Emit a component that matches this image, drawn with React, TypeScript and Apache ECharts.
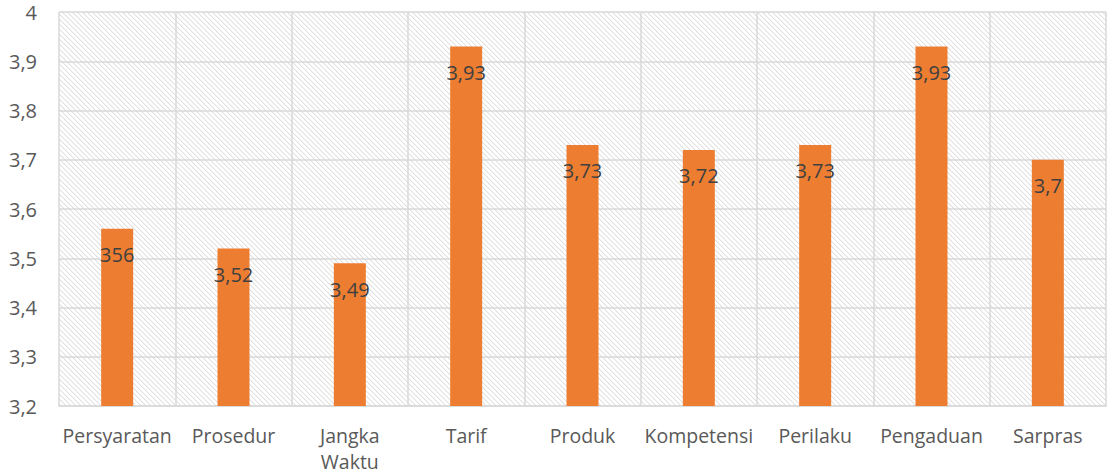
import React, { useEffect, useRef } from "react";
import * as echarts from "echarts";

const categories = ["Persyaratan", "Prosedur", "Jangka\nWaktu", "Tarif", "Produk", "Kompetensi", "Perilaku", "Pengaduan", "Sarpras"];
const values = [3.56, 3.52, 3.49, 3.93, 3.73, 3.72, 3.73, 3.93, 3.7];
const valueLabels = ["356", "3,52", "3,49", "3,93", "3,73", "3,72", "3,73", "3,93", "3,7"];
const yMin = 3.2;
const yMax = 4;
const yStep = 0.1;

function makeHatch(): string {
  const size = 5;
  const c = document.createElement("canvas");
  c.width = size;
  c.height = size;
  const ctx = c.getContext("2d")!;
  ctx.fillStyle = "#ffffff";
  ctx.fillRect(0, 0, size, size);
  for (let i = 0; i < size; i++) {
    ctx.fillStyle = "#e0e0e0";
    ctx.fillRect(i, i, 1, 1);
    ctx.fillStyle = "#f3f3f3";
    ctx.fillRect((i + 1) % size, i, 1, 1);
  }
  return c.toDataURL();
}

export default function App() {
  const ref = useRef<HTMLDivElement>(null);
  useEffect(() => {
    const chart = echarts.init(ref.current!, undefined, { renderer: "svg" });
    const font = "'Open Sans', sans-serif";
    chart.setOption({
      animation: false,
      backgroundColor: "#ffffff",
      grid: {
        left: 59,
        right: 1,
        top: 12,
        bottom: 67,
        show: true,
        borderWidth: 0,
        backgroundColor: { image: makeHatch(), repeat: "repeat" },
      },
      xAxis: {
        type: "category",
        data: categories,
        axisLine: { show: true, lineStyle: { color: "#d9d9d9", width: 1.5 } },
        axisTick: { show: false },
        splitLine: { show: true, interval: 0, lineStyle: { color: "#d9d9d9", width: 1.5 } },
        axisLabel: {
          interval: 0,
          color: "#595959",
          fontFamily: font,
          fontSize: 19.5,
          lineHeight: 26,
          margin: 16,
        },
      },
      yAxis: {
        type: "value",
        min: yMin,
        max: yMax,
        interval: yStep,
        axisLine: { show: false },
        axisTick: { show: false },
        splitLine: { show: true, lineStyle: { color: "#d9d9d9", width: 1.5 } },
        axisLabel: {
          color: "#595959",
          fontFamily: font,
          fontSize: 20,
          margin: 22,
          formatter: (v: number) => String(Math.round(v * 10) / 10).replace(".", ","),
        },
      },
      series: [
        {
          type: "bar",
          data: values,
          barWidth: 32,
          itemStyle: { color: "#ED7D31" },
          label: {
            show: true,
            position: "insideTop",
            distance: 16,
            color: "#404040",
            fontFamily: font,
            fontSize: 20,
            formatter: (p: any) => valueLabels[p.dataIndex],
          },
        },
      ],
    });
    return () => chart.dispose();
  }, []);
  return <div ref={ref} style={{ position: "fixed", left: 0, top: 0, width: 1107, height: 474 }} />;
}
